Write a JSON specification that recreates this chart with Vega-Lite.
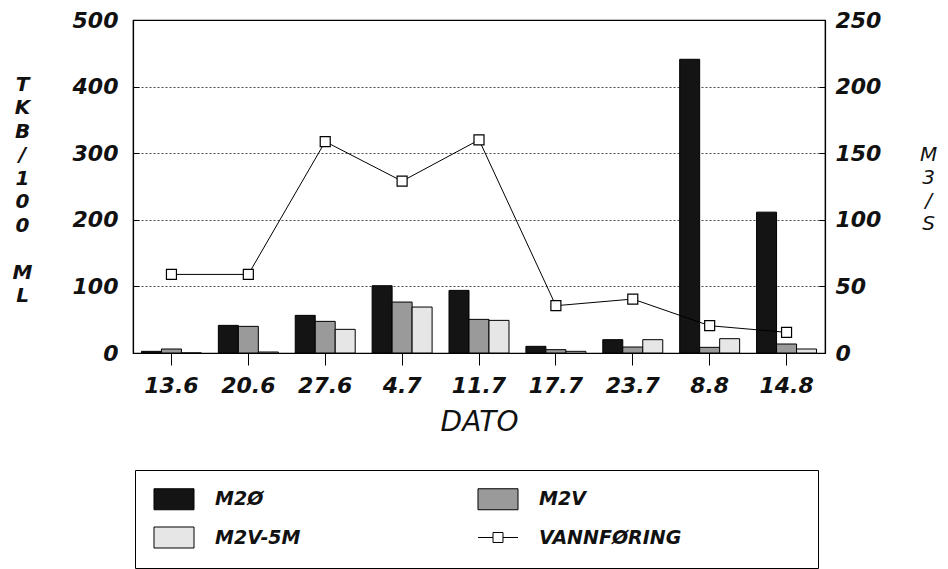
{
  "$schema": "https://vega.github.io/schema/vega-lite/v6.json",
  "width": 692,
  "height": 333,
  "autosize": {"type": "none"},
  "padding": {"left": 133, "top": 20, "right": 123, "bottom": 216},
  "background": "white",
  "config": {
    "font": "DejaVu Sans",
    "view": {"stroke": "black", "strokeWidth": 1.2},
    "axis": {
      "labelFont": "DejaVu Sans",
      "labelFontStyle": "italic",
      "labelFontWeight": "bold",
      "labelFontSize": 22,
      "labelColor": "#111",
      "domainColor": "black",
      "domainWidth": 1.2,
      "tickColor": "black",
      "titleFont": "DejaVu Sans",
      "titleFontStyle": "italic",
      "titleColor": "#111"
    }
  },
  "datasets": {
    "bars": [
      {"dato": "13.6", "serie": "M2Ø", "verdi": 2.5},
      {"dato": "13.6", "serie": "M2V", "verdi": 6},
      {"dato": "13.6", "serie": "M2V-5M", "verdi": 0},
      {"dato": "20.6", "serie": "M2Ø", "verdi": 41.5},
      {"dato": "20.6", "serie": "M2V", "verdi": 40},
      {"dato": "20.6", "serie": "M2V-5M", "verdi": 1.5},
      {"dato": "27.6", "serie": "M2Ø", "verdi": 56.5},
      {"dato": "27.6", "serie": "M2V", "verdi": 47.5},
      {"dato": "27.6", "serie": "M2V-5M", "verdi": 35.5},
      {"dato": "4.7", "serie": "M2Ø", "verdi": 101},
      {"dato": "4.7", "serie": "M2V", "verdi": 76.5},
      {"dato": "4.7", "serie": "M2V-5M", "verdi": 69},
      {"dato": "11.7", "serie": "M2Ø", "verdi": 94},
      {"dato": "11.7", "serie": "M2V", "verdi": 50.5},
      {"dato": "11.7", "serie": "M2V-5M", "verdi": 49},
      {"dato": "17.7", "serie": "M2Ø", "verdi": 10},
      {"dato": "17.7", "serie": "M2V", "verdi": 5},
      {"dato": "17.7", "serie": "M2V-5M", "verdi": 2.5},
      {"dato": "23.7", "serie": "M2Ø", "verdi": 20},
      {"dato": "23.7", "serie": "M2V", "verdi": 9},
      {"dato": "23.7", "serie": "M2V-5M", "verdi": 20},
      {"dato": "8.8", "serie": "M2Ø", "verdi": 441},
      {"dato": "8.8", "serie": "M2V", "verdi": 8.5},
      {"dato": "8.8", "serie": "M2V-5M", "verdi": 21.5},
      {"dato": "14.8", "serie": "M2Ø", "verdi": 211.5},
      {"dato": "14.8", "serie": "M2V", "verdi": 13.5},
      {"dato": "14.8", "serie": "M2V-5M", "verdi": 6}
    ],
    "flow": [
      {"dato": "13.6", "serie": "VANNFØRING", "flow": 59},
      {"dato": "20.6", "serie": "VANNFØRING", "flow": 59},
      {"dato": "27.6", "serie": "VANNFØRING", "flow": 158.7},
      {"dato": "4.7", "serie": "VANNFØRING", "flow": 129},
      {"dato": "11.7", "serie": "VANNFØRING", "flow": 160},
      {"dato": "17.7", "serie": "VANNFØRING", "flow": 35.5},
      {"dato": "23.7", "serie": "VANNFØRING", "flow": 40.5},
      {"dato": "8.8", "serie": "VANNFØRING", "flow": 20.5},
      {"dato": "14.8", "serie": "VANNFØRING", "flow": 15.5}
    ]
  },
  "layer": [
    {
      "data": {"name": "bars"},
      "mark": {"type": "bar", "stroke": "black", "strokeWidth": 1},
      "encoding": {
        "x": {
          "field": "dato",
          "type": "nominal",
          "sort": null,
          "scale": {
            "domain": ["13.6", "20.6", "27.6", "4.7", "11.7", "17.7", "23.7", "8.8", "14.8"],
            "paddingInner": 0.22,
            "paddingOuter": 0.11
          },
          "axis": {
            "title": "DATO",
            "titleFontSize": 28,
            "titleFontWeight": "normal",
            "titleY": 69,
            "titleBaseline": "middle",
            "labelAngle": 0,
            "tickSize": 12,
            "labelPadding": 10,
            "grid": false
          }
        },
        "xOffset": {
          "field": "serie",
          "type": "nominal",
          "sort": ["M2Ø", "M2V", "M2V-5M"],
          "scale": {"paddingInner": 0, "paddingOuter": 0}
        },
        "y": {
          "field": "verdi",
          "type": "quantitative",
          "scale": {"domain": [0, 500], "nice": false},
          "axis": {
            "values": [0, 100, 200, 300, 400, 500],
            "title": ["T", "K", "B", "/", "1", "0", "0", "\u2800", "M", "L"],
            "titleAngle": 0,
            "titleX": -111,
            "titleY": 64,
            "titleAlign": "center",
            "titleBaseline": "middle",
            "titleFontSize": 20,
            "titleFontWeight": "bold",
            "titleLineHeight": 23.5,
            "grid": true,
            "gridDash": [2, 2],
            "gridColor": "black",
            "gridOpacity": 0.7,
            "tickSize": -6,
            "labelPadding": 21
          }
        },
        "fill": {
          "field": "serie",
          "type": "nominal",
          "scale": {
            "domain": ["M2Ø", "M2V", "M2V-5M", "VANNFØRING"],
            "range": ["#141414", "#9a9a9a", "#e6e6e6", "white"]
          },
          "legend": {
            "orient": "none",
            "legendX": 2,
            "legendY": 450,
            "direction": "horizontal",
            "columns": 2,
            "title": null,
            "strokeColor": "black",
            "fillColor": "white",
            "padding": 18,
            "columnPadding": 174,
            "rowPadding": 12.5,
            "symbolSize": 441,
            "symbolOffset": 10,
            "symbolStrokeColor": "black",
            "symbolStrokeWidth": 1,
            "symbolType": "M-1.905,-1H1.905V1H-1.905Z",
            "labelFont": "DejaVu Sans",
            "labelFontSize": 19,
            "labelFontStyle": "italic",
            "labelFontWeight": "bold",
            "labelColor": "#111",
            "labelOffset": 30,
            "labelLimit": 800,
            "labelExpr": "indexof(datum.label, 'VANN') === 0 ? datum.label + '\u2800\u2800\u2800\u2800\u2800\u2800\u2800\u2800' : datum.label",
            "encode": {
              "symbols": {
                "update": {
                  "shape": {"signal": "indexof(datum.label, 'VANN') === 0 ? 'M-1.905,0H-0.476M0.476,0H1.905M-0.476,-0.476H0.476V0.476H-0.476Z' : 'M-1.905,-1H1.905V1H-1.905Z'"},
                  "stroke": {"value": "black"},
                  "strokeWidth": {"value": 1}
                }
              }
            }
          }
        }
      }
    },
    {
      "data": {"name": "flow"},
      "layer": [
        {
          "mark": {"type": "line", "color": "black", "strokeWidth": 1},
          "encoding": {
            "x": {"field": "dato", "type": "nominal", "sort": null},
            "y": {
              "field": "flow",
              "type": "quantitative",
              "scale": {"domain": [0, 250], "nice": false},
              "axis": {
                "orient": "right",
                "values": [0, 50, 100, 150, 200, 250],
                "grid": false,
                "title": ["M", "3", "/", "S"],
                "titleAngle": 0,
                "titleX": 103,
                "titleY": 134,
                "titleAlign": "center",
                "titleBaseline": "middle",
                "titleFontSize": 20,
                "titleFontWeight": "normal",
                "titleLineHeight": 23,
                "tickSize": -6,
                "labelPadding": 16
              }
            }
          }
        },
        {
          "mark": {"type": "square", "filled": true, "stroke": "black", "strokeWidth": 1.2, "size": 100, "opacity": 1},
          "encoding": {
            "x": {"field": "dato", "type": "nominal", "sort": null},
            "y": {"field": "flow", "type": "quantitative"},
            "fill": {"field": "serie", "type": "nominal"}
          }
        }
      ]
    }
  ],
  "resolve": {"scale": {"y": "independent"}}
}
